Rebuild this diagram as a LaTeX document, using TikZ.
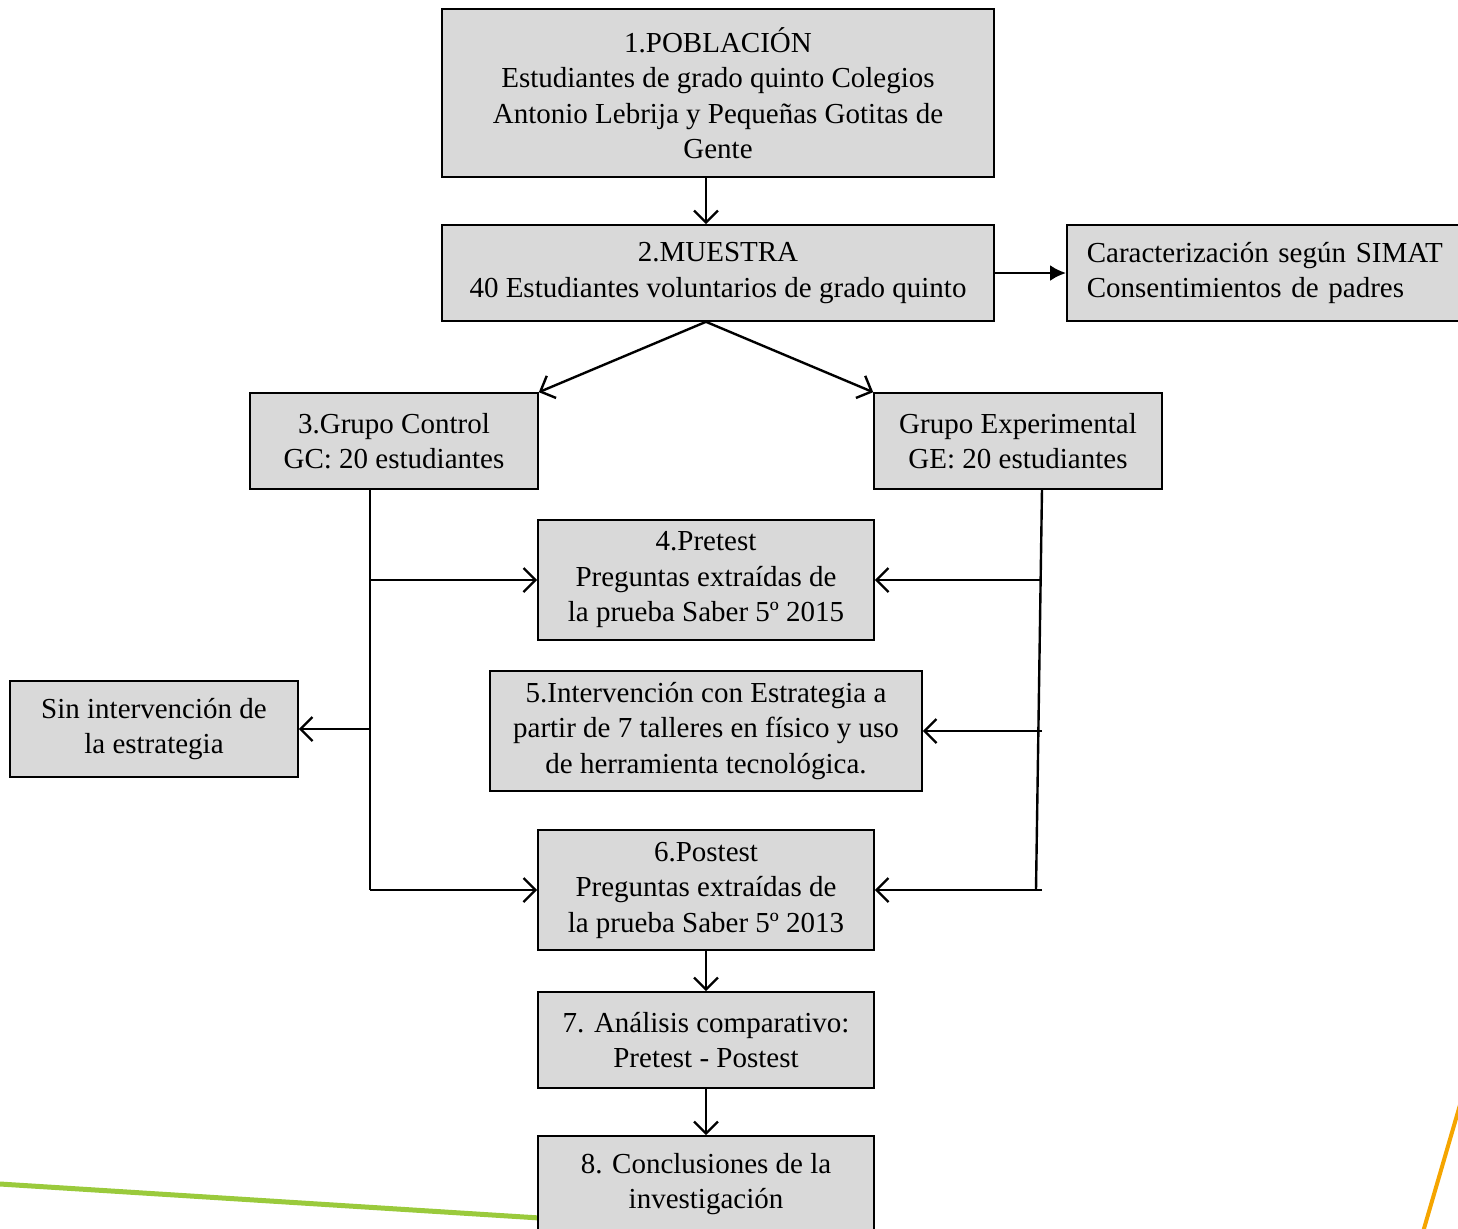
\documentclass[tikz,border=0pt]{standalone}
\usepackage{fontspec}
\setmainfont{Liberation Serif}
\usetikzlibrary{positioning,arrows.meta}
\definecolor{boxgray}{RGB}{217,217,217}
\definecolor{linegreen}{RGB}{154,202,60}
\definecolor{lineorange}{RGB}{245,165,0}

\begin{document}
\begin{tikzpicture}[x=0.5pt, y=-0.5pt, line width=1.2pt,
        >={Straight Barb[length=6pt,width=12pt]},
        box/.style={draw, line width=0.8pt, fill=boxgray, align=center, inner sep=0pt,
            font=\fontsize{14.5}{17.75}\selectfont}]

                \useasboundingbox (0,0) rectangle (1458,1228);

                % decoration lines
                \draw [linegreen, line width=2.5pt] (0,1184) -- (540,1218);
                \draw [lineorange, line width=2pt] (1462,1098) -- (1423,1232);

                % draw nodes
                    % population and sample
                    \node [box, minimum width=276pt, minimum height=84pt] (b1) at (718,93)
                        {1.POBLACIÓN\\Estudiantes de grado quinto Colegios\\Antonio Lebrija y Pequeñas Gotitas de\\Gente};
                    \node [box, minimum width=276pt, minimum height=48pt] (b2) at (718,273)
                        {2.MUESTRA\\40 Estudiantes voluntarios de grado quinto};
                    \node [box, anchor=west, align=left, text width=190pt, inner xsep=10pt, minimum height=48pt] (simat) at (1066,273)
                        {Caracterización según SIMAT\\Consentimientos de padres};

                    % groups
                    \node [box, minimum width=144pt, minimum height=48pt] (gc) at (394,441)
                        {3.Grupo Control\\GC: 20 estudiantes};
                    \node [box, minimum width=144pt, minimum height=48pt] (ge) at (1018,441)
                        {Grupo Experimental\\GE: 20 estudiantes};

                    % steps
                    \node [box, minimum width=168pt, minimum height=60pt] (b4) at (706,580)
                        {4.Pretest\\Preguntas extraídas de\\la prueba Saber 5º 2015};
                    \node [box, minimum width=216pt, minimum height=60pt] (b5) at (706,731)
                        {5.Intervención con Estrategia a\\partir de 7 talleres en físico y uso\\de herramienta tecnológica.};
                    \node [box, minimum width=144pt, minimum height=48pt] (sin) at (154,729)
                        {Sin intervención de\\la estrategia};
                    \node [box, minimum width=168pt, minimum height=60pt] (b6) at (706,890)
                        {6.Postest\\Preguntas extraídas de\\la prueba Saber 5º 2013};
                    \node [box, minimum width=168pt, minimum height=48pt] (b7) at (706,1040)
                        {7. Análisis comparativo:\\Pretest - Postest};
                    \node [box, minimum width=168pt, minimum height=48pt] (b8) at (706,1184)
                        {8. Conclusiones de la\\investigación};

                % trunk coordinates
                \coordinate (lt) at (370,489);
                \coordinate (lb) at (lt |- b6.west);
                \coordinate (rt) at (1042,489);
                \coordinate (rb) at (1036,890);

                % top arrows
                \draw [->] (b1.south -| b4) -- (b2.north -| b4);
                \draw [-{Latex[length=8pt,width=8pt]}] (b2.east) -- (simat.west);
                \draw [->] (b2.south -| b4) -- (gc.north east);
                \draw [->] (b2.south -| b4) -- (ge.north west);

                % control group
                \draw (lt) -- (lb);
                \foreach \b in {b4,b6}
                    \draw [->] (\b.west -| lt) -- (\b.west);
                \draw [->] (sin.east -| lt) -- (sin.east);

                % experimental group
                \draw (rt) -- (rb);
                \foreach \b in {b4,b5,b6}
                    \draw [->] (\b.east -| rt) -- (\b.east);

                % bottom arrows
                \draw [->] (b6) -- (b7);
                \draw [->] (b7) -- (b8);

\end{tikzpicture}
\end{document}
